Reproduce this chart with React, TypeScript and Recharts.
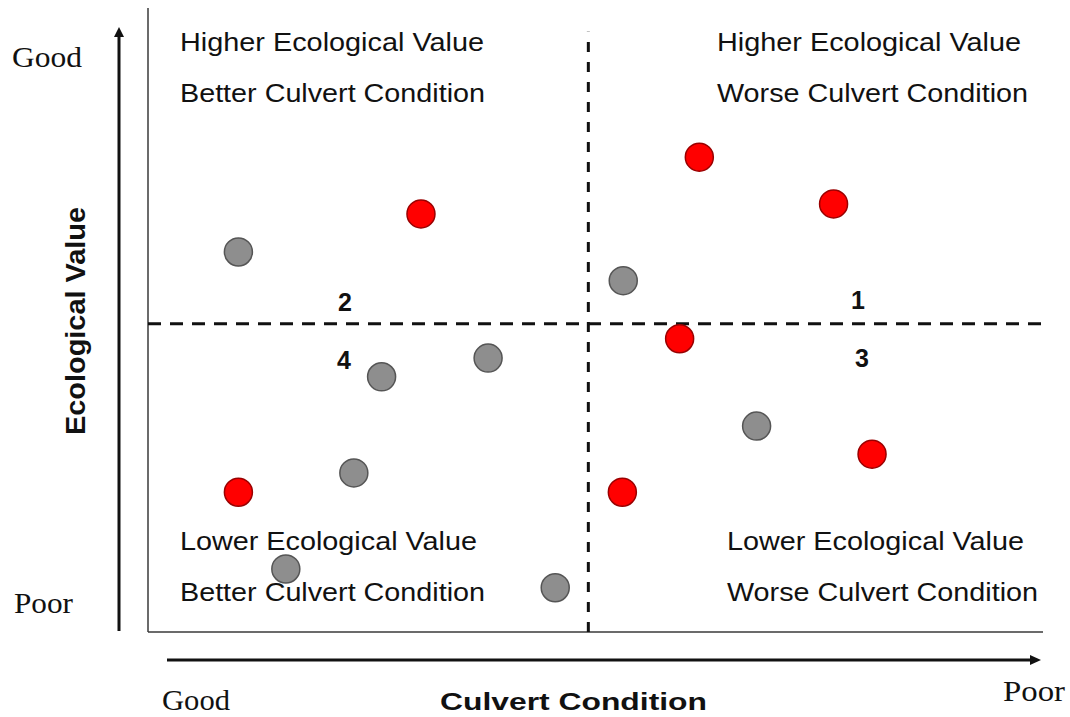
import React from 'react';
import { ScatterChart, Scatter, XAxis, YAxis, ReferenceLine } from 'recharts';

// Culvert condition (x, 0 = good .. 10 = poor), ecological value (y, 0 = poor .. 10 = good)
const redPoints = [
  { x: 3.05, y: 6.7 },
  { x: 6.16, y: 7.61 },
  { x: 7.66, y: 6.86 },
  { x: 5.94, y: 4.7 },
  { x: 8.09, y: 2.85 },
  { x: 1.01, y: 2.24 },
  { x: 5.3, y: 2.24 },
];

const grayPoints = [
  { x: 1.01, y: 6.09 },
  { x: 5.31, y: 5.63 },
  { x: 3.8, y: 4.39 },
  { x: 2.61, y: 4.09 },
  { x: 6.8, y: 3.3 },
  { x: 2.3, y: 2.55 },
  { x: 1.54, y: 1.01 },
  { x: 4.55, y: 0.71 },
];

const xDivider = 4.92;
const yDivider = 4.94;

const quadrantTexts = [
  { text: 'Higher Ecological Value', x: 180, y: 51, len: 304 },
  { text: 'Better Culvert Condition', x: 180, y: 102, len: 305 },
  { text: 'Higher Ecological Value', x: 717, y: 51, len: 304 },
  { text: 'Worse Culvert Condition', x: 717, y: 102, len: 311 },
  { text: 'Lower Ecological Value', x: 180, y: 550, len: 297 },
  { text: 'Better Culvert Condition', x: 180, y: 601, len: 305 },
  { text: 'Lower Ecological Value', x: 727, y: 550, len: 297 },
  { text: 'Worse Culvert Condition', x: 727, y: 601, len: 311 },
];

const quadrantNumbers = [
  { text: '2', x: 345, y: 311 },
  { text: '1', x: 858, y: 309 },
  { text: '4', x: 344, y: 369 },
  { text: '3', x: 862, y: 367 },
];

const makeDot = (fill: string, stroke: string) => (props: any) => (
  <circle cx={props.cx} cy={props.cy} r={14} fill={fill} stroke={stroke} strokeWidth={1.5} />
);

const sans = 'Liberation Sans, Arial, sans-serif';
const serif = 'Liberation Serif, Times New Roman, serif';

export default function App() {
  return (
    <div style={{ position: 'absolute', left: 0, top: 0, width: 1070, height: 717, background: '#fff' }}>
      <ScatterChart width={1070} height={717} margin={{ top: 8, right: 27, bottom: 85, left: 148 }}>
        <XAxis type="number" dataKey="x" domain={[0, 10]} hide />
        <YAxis type="number" dataKey="y" domain={[0, 10]} hide />
        <ReferenceLine x={0} stroke="#3a3a3a" strokeWidth={1.5} />
        <ReferenceLine y={0} stroke="#3a3a3a" strokeWidth={1.5} />
        <ReferenceLine
          segment={[{ x: xDivider, y: 0 }, { x: xDivider, y: 9.62 }]}
          stroke="#111"
          strokeWidth={3}
          strokeDasharray="10 10"
        />
        <ReferenceLine
          segment={[{ x: 0, y: yDivider }, { x: 10.07, y: yDivider }]}
          stroke="#111"
          strokeWidth={3}
          strokeDasharray="13 9"
          ifOverflow="visible"
        />
        <Scatter data={grayPoints} fill="#8c8c8c" shape={makeDot('#8e8e8e', '#555')} isAnimationActive={false} />
        <Scatter data={redPoints} fill="#ff0000" shape={makeDot('#ff0000', '#9a0000')} isAnimationActive={false} />
        <g>
          {quadrantTexts.map((t, i) => (
            <text
              key={i}
              x={t.x}
              y={t.y}
              fontFamily={sans}
              fontSize={25}
              fill="#111"
              textLength={t.len}
              lengthAdjust="spacingAndGlyphs"
            >
              {t.text}
            </text>
          ))}
          {quadrantNumbers.map((t, i) => (
            <text key={'n' + i} x={t.x} y={t.y} fontFamily={sans} fontSize={25} fontWeight="bold" fill="#111" textAnchor="middle">
              {t.text}
            </text>
          ))}
          {/* vertical axis arrow */}
          <line x1={119} y1={631} x2={119} y2={34} stroke="#111" strokeWidth={3} />
          <polygon points="119,27 114,37 124,37" fill="#111" />
          {/* horizontal axis arrow */}
          <line x1={167} y1={660} x2={1032} y2={660} stroke="#111" strokeWidth={3} />
          <polygon points="1041,660 1030,655 1030,665" fill="#111" />
          <text x={12} y={67} fontFamily={serif} fontSize={30} fill="#111" textLength={70} lengthAdjust="spacingAndGlyphs">Good</text>
          <text x={14} y={613} fontFamily={serif} fontSize={30} fill="#111" textLength={59} lengthAdjust="spacingAndGlyphs">Poor</text>
          <text x={162} y={710} fontFamily={serif} fontSize={29} fill="#111" textLength={68} lengthAdjust="spacingAndGlyphs">Good</text>
          <text x={1003} y={701} fontFamily={serif} fontSize={30} fill="#111" textLength={62} lengthAdjust="spacingAndGlyphs">Poor</text>
          <text x={440} y={710} fontFamily={sans} fontSize={24} fontWeight="bold" fill="#111" textLength={267} lengthAdjust="spacingAndGlyphs">Culvert Condition</text>
          <text
            x={0}
            y={0}
            transform="translate(85, 435) rotate(-90)"
            fontFamily={sans}
            fontSize={28}
            fontWeight="bold"
            fill="#111"
            textLength={228}
            lengthAdjust="spacingAndGlyphs"
          >
            Ecological Value
          </text>
        </g>
      </ScatterChart>
    </div>
  );
}
